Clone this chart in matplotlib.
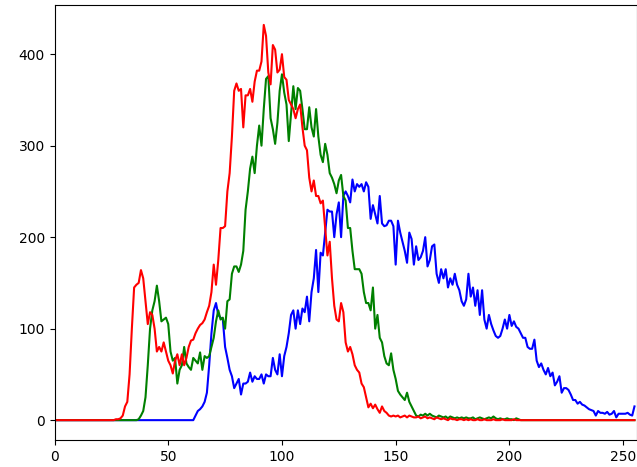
import numpy as np
import matplotlib
matplotlib.use("Agg")
import matplotlib.pyplot as plt

# histogram counts per intensity bin (0..255)
red = [
    0, 0, 0, 0, 0, 0, 0, 0, 0, 0, 0, 0, 0, 0, 0, 0,
    0, 0, 0, 0, 0, 0, 0, 0, 0, 0, 0, 1, 1, 2, 5, 15,
    20, 50, 100, 145, 148, 150, 164, 155, 130, 105, 118, 115, 100, 75, 80, 75,
    85, 75, 65, 60, 51, 65, 72, 60, 72, 60, 68, 80, 87, 88, 95, 100,
    104, 106, 110, 118, 125, 140, 170, 148, 175, 210, 210, 212, 250, 270, 310, 360,
    368, 360, 362, 320, 355, 355, 362, 348, 370, 382, 382, 392, 432, 420, 380, 367,
    410, 405, 380, 383, 400, 375, 372, 350, 345, 340, 330, 340, 345, 320, 300, 295,
    265, 250, 262, 245, 245, 237, 240, 210, 180, 195, 155, 125, 110, 108, 128, 118,
    85, 75, 80, 72, 60, 55, 52, 40, 36, 25, 14, 18, 13, 17, 12, 8,
    15, 10, 8, 5, 4, 5, 4, 5, 3, 4, 5, 3, 5, 4, 3, 3,
    4, 2, 3, 4, 2, 3, 2, 1, 3, 2, 1, 2, 1, 0, 2, 1,
    1, 0, 1, 1, 0, 1, 0, 1, 0, 0, 1, 0, 0, 1, 0, 0,
    0, 1, 0, 0, 0, 1, 0, 0, 0, 0, 1, 0, 0, 0, 0, 0,
    0, 0, 0, 0, 0, 0, 0, 0, 0, 0, 0, 0, 0, 0, 0, 0,
    0, 0, 0, 0, 0, 0, 0, 0, 0, 0, 0, 0, 0, 0, 0, 0,
    0, 0, 0, 0, 0, 0, 0, 0, 0, 0, 0, 0, 0, 0, 0, 0,
]

green = [
    0, 0, 0, 0, 0, 0, 0, 0, 0, 0, 0, 0, 0, 0, 0, 0,
    0, 0, 0, 0, 0, 0, 0, 0, 0, 0, 0, 0, 0, 0, 0, 0,
    0, 0, 0, 0, 0, 1, 5, 10, 25, 60, 100, 120, 130, 147, 130, 108,
    110, 112, 105, 75, 65, 68, 40, 55, 60, 80, 62, 58, 55, 68, 65, 62,
    74, 55, 70, 68, 70, 80, 90, 108, 120, 110, 112, 100, 130, 132, 160, 168,
    168, 162, 170, 185, 230, 250, 275, 288, 270, 300, 322, 300, 340, 373, 376, 330,
    318, 302, 325, 360, 378, 358, 345, 305, 335, 365, 340, 363, 360, 340, 318, 318,
    342, 320, 310, 340, 310, 290, 282, 302, 290, 270, 265, 258, 248, 262, 268, 245,
    240, 210, 210, 185, 165, 165, 165, 160, 140, 128, 128, 120, 145, 100, 115, 90,
    85, 70, 62, 60, 73, 55, 45, 32, 28, 25, 22, 30, 20, 15, 10, 5,
    4, 6, 5, 7, 5, 7, 5, 4, 3, 5, 4, 3, 4, 2, 4, 3,
    2, 3, 2, 3, 2, 3, 2, 2, 3, 1, 2, 3, 2, 1, 2, 3,
    2, 4, 2, 1, 2, 1, 1, 2, 1, 1, 0, 2, 1, 0, 0, 0,
    0, 0, 0, 0, 0, 0, 0, 0, 0, 0, 0, 0, 0, 0, 0, 0,
    0, 0, 0, 0, 0, 0, 0, 0, 0, 0, 0, 0, 0, 0, 0, 0,
    0, 0, 0, 0, 0, 0, 0, 0, 0, 0, 0, 0, 0, 0, 0, 0,
]

blue = [
    0, 0, 0, 0, 0, 0, 0, 0, 0, 0, 0, 0, 0, 0, 0, 0,
    0, 0, 0, 0, 0, 0, 0, 0, 0, 0, 0, 0, 0, 0, 0, 0,
    0, 0, 0, 0, 0, 0, 0, 0, 0, 0, 0, 0, 0, 0, 0, 0,
    0, 0, 0, 0, 0, 0, 0, 0, 0, 0, 0, 0, 0, 0, 5, 10,
    12, 15, 20, 30, 60, 95, 120, 128, 115, 112, 110, 80, 68, 55, 48, 35,
    40, 45, 28, 40, 40, 42, 52, 42, 48, 45, 45, 50, 40, 50, 48, 48,
    68, 55, 50, 72, 48, 70, 80, 95, 115, 120, 100, 120, 105, 122, 118, 135,
    108, 140, 155, 186, 140, 183, 180, 205, 230, 228, 228, 200, 225, 238, 200, 245,
    250, 245, 238, 263, 250, 258, 255, 258, 250, 260, 255, 220, 235, 225, 215, 245,
    215, 212, 213, 218, 218, 212, 170, 218, 205, 195, 185, 172, 205, 198, 170, 190,
    175, 178, 185, 200, 168, 175, 190, 192, 160, 150, 165, 155, 165, 145, 155, 148,
    160, 148, 142, 130, 125, 132, 160, 135, 145, 125, 142, 115, 142, 110, 100, 115,
    105, 98, 92, 90, 92, 100, 110, 100, 115, 103, 108, 102, 100, 95, 90, 90,
    80, 78, 78, 88, 65, 58, 62, 55, 50, 57, 48, 52, 38, 42, 48, 30,
    35, 35, 33, 28, 22, 22, 18, 20, 17, 16, 14, 12, 11, 10, 5, 10,
    8, 8, 7, 9, 6, 7, 10, 3, 7, 7, 7, 7, 8, 6, 5, 15,
]

bins = np.arange(256)

fig = plt.figure(figsize=(6.37, 4.67), dpi=100)
ax = fig.add_axes([0.0856, 0.058, 0.914, 0.931])

for hist, col in [(blue, 'b'), (green, 'g'), (red, 'r')]:
    ax.plot(bins, hist, color=col)

ax.set_xlim([0, 256])

fig.savefig("out.png", dpi=100)
